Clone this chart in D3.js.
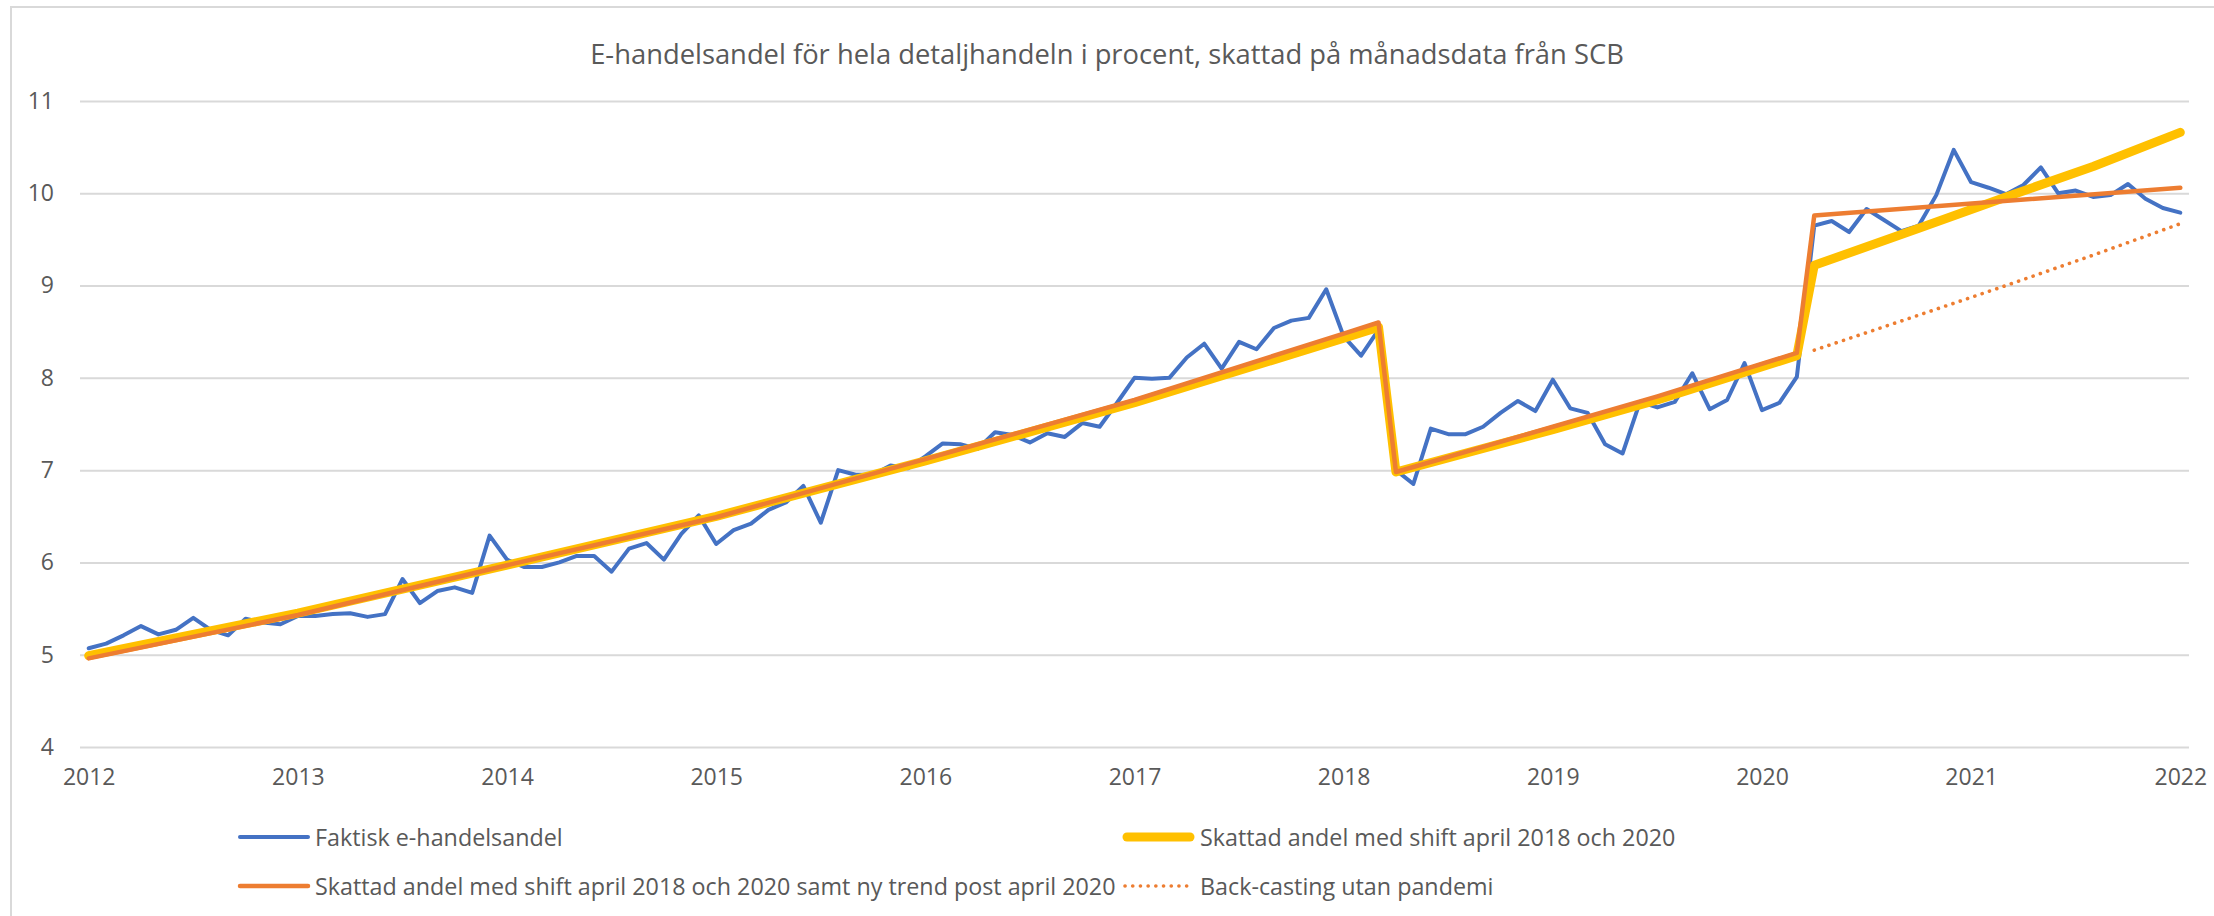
<!DOCTYPE html>
<html>
<head>
<meta charset="utf-8">
<script src="https://cdn.jsdelivr.net/npm/d3@7"></script>
<style>
  html, body { margin: 0; padding: 0; background: #fff; }
  svg { display: block; }
  text { font-family: "Open Sans", "Noto Sans", sans-serif; fill: #595959; }
</style>
</head>
<body>
<svg id="chart" width="2214" height="916"></svg>
<script>
// ---------- data ----------
const titleText = "E-handelsandel för hela detaljhandeln i procent, skattad på månadsdata från SCB";
const yearLabels = ["2012","2013","2014","2015","2016","2017","2018","2019","2020","2021","2022"];
const yTicks = [4,5,6,7,8,9,10,11];

// monthly actual e-commerce share, Jan 2012 .. Jan 2022 (121 months)
const actualShare = [
  5.07,5.12,5.21,5.31,5.22,5.27,5.40,5.27,5.21,5.39,5.35,5.33,
  5.42,5.42,5.44,5.45,5.41,5.44,5.82,5.56,5.69,5.73,5.67,6.29,
  6.03,5.95,5.95,6.00,6.07,6.07,5.90,6.15,6.21,6.03,6.31,6.51,
  6.20,6.35,6.42,6.57,6.65,6.83,6.43,7.00,6.95,6.95,7.05,7.02,
  7.15,7.29,7.28,7.23,7.41,7.38,7.30,7.40,7.36,7.51,7.47,7.73,
  8.00,7.99,8.00,8.22,8.37,8.10,8.39,8.31,8.54,8.62,8.65,8.96,
  8.45,8.24,8.52,7.00,6.85,7.45,7.39,7.39,7.47,7.62,7.75,7.64,
  7.98,7.67,7.62,7.28,7.18,7.74,7.68,7.74,8.05,7.66,7.76,8.16,
  7.65,7.73,8.01,9.65,9.70,9.58,9.83,9.71,9.59,9.65,9.98,10.47,
  10.12,10.06,9.99,10.09,10.28,10.00,10.03,9.96,9.98,10.10,9.94,9.84,
  9.79
];

// estimated series, read at month indices (0 = Jan 2012)
const shiftMonths  = [0,12,24,36,48,60,72,74,75,84,90,98,99,105,110,115,120];
const shiftValues  = [4.99,5.45,5.97,6.50,7.10,7.73,8.43,8.55,6.98,7.44,7.76,8.24,9.22,9.62,9.96,10.29,10.66];

const trendMonths  = [0,12,24,36,48,60,72,74,75,84,90,98,99,120];
const trendValues  = [4.96,5.43,5.97,6.49,7.12,7.76,8.48,8.60,6.98,7.47,7.80,8.27,9.76,10.06];

const backMonths   = [99,105,110,115,120];
const backValues   = [8.30,8.68,9.00,9.33,9.67];

const seriesNames = [
  "Faktisk e-handelsandel",
  "Skattad andel med shift april 2018 och 2020",
  "Skattad andel med shift april 2018 och 2020 samt ny trend post april 2020",
  "Back-casting utan pandemi"
];

// ---------- layout ----------
const svg = d3.select("#chart");
const plotL = 80, plotR = 2189, plotT = 101, plotB = 747;
const COL_BLUE = "#4472C4", COL_YEL = "#FFC000", COL_OR = "#ED7D31", GRID = "#D9D9D9";

const monthIdx = d3.range(actualShare.length);
const x = d3.scalePoint().domain(monthIdx).range([plotL, plotR]).padding(0.5);
const y = d3.scaleLinear().domain([4, 11]).range([plotB, plotT]);

// chart-area border
svg.append("rect").attr("x", 11).attr("y", 7).attr("width", 2240).attr("height", 960)
  .attr("fill", "none").attr("stroke", GRID).attr("stroke-width", 2);

// gridlines
const yAxis = d3.axisLeft(y).tickValues(yTicks).tickSize(-(plotR - plotL)).tickPadding(26).tickFormat(d3.format("d"));
const gy = svg.append("g").attr("transform", `translate(${plotL},0)`).call(yAxis);
gy.select(".domain").remove();
gy.selectAll(".tick line").attr("stroke", GRID).attr("stroke-width", 2);
gy.selectAll(".tick text").style("font-size", "23px").attr("fill", "#595959");

// x axis labels
const xAxis = d3.axisBottom(x).tickValues(yearLabels.map((_, i) => i * 12))
  .tickSize(0).tickPadding(22).tickFormat((d) => yearLabels[d / 12]);
const gx = svg.append("g").attr("transform", `translate(0,${plotB})`).call(xAxis);
gx.select(".domain").remove();
gx.selectAll(".tick text").style("font-size", "23px").attr("fill", "#595959");

// title
const title = svg.append("text").attr("x", 1107).attr("y", 53)
  .attr("text-anchor", "middle").attr("dominant-baseline", "central")
  .style("font-size", "26px").text(titleText);
const tl = title.node().getComputedTextLength();
title.style("font-size", (26 * 1034 / tl).toFixed(2) + "px");

// lines
const lineIdx = d3.line().x(d => x(d[0])).y(d => y(d[1]));
const g = svg.append("g");

g.append("path").datum(actualShare.map((v, i) => [i, v]))
  .attr("d", lineIdx).attr("fill", "none").attr("stroke", COL_BLUE)
  .attr("stroke-width", 4).attr("stroke-linejoin", "round").attr("stroke-linecap", "round");

g.append("path").datum(shiftMonths.map((m, i) => [m, shiftValues[i]]))
  .attr("d", lineIdx).attr("fill", "none").attr("stroke", COL_YEL)
  .attr("stroke-width", 9).attr("stroke-linejoin", "round").attr("stroke-linecap", "round");

g.append("path").datum(trendMonths.map((m, i) => [m, trendValues[i]]))
  .attr("d", lineIdx).attr("fill", "none").attr("stroke", COL_OR)
  .attr("stroke-width", 4.5).attr("stroke-linejoin", "round").attr("stroke-linecap", "round");

g.append("path").datum(backMonths.map((m, i) => [m, backValues[i]]))
  .attr("d", lineIdx).attr("fill", "none").attr("stroke", COL_OR)
  .attr("stroke-width", 3.6).attr("stroke-linecap", "round").attr("stroke-dasharray", "0.1 7.6");

// legend
const legendItems = [
  { name: seriesNames[0], x1: 240, x2: 308, tx: 315, y: 837, color: COL_BLUE, w: 4, dash: null },
  { name: seriesNames[1], x1: 1127, x2: 1190, tx: 1200, y: 837, color: COL_YEL, w: 9, dash: null },
  { name: seriesNames[2], x1: 240, x2: 308, tx: 315, y: 886, color: COL_OR, w: 4.5, dash: null },
  { name: seriesNames[3], x1: 1125, x2: 1194, tx: 1200, y: 886, color: COL_OR, w: 3.6, dash: "0.1 7.6" }
];
const lg = svg.append("g").selectAll("g").data(legendItems).join("g");
lg.append("line").attr("x1", d => d.x1).attr("x2", d => d.x2).attr("y1", d => d.y).attr("y2", d => d.y)
  .attr("stroke", d => d.color).attr("stroke-width", d => d.w).attr("stroke-linecap", "round")
  .attr("stroke-dasharray", d => d.dash);
lg.append("text").attr("x", d => d.tx).attr("y", d => d.y).attr("dominant-baseline", "central")
  .style("font-size", "23.3px").text(d => d.name);
</script>
</body>
</html>
